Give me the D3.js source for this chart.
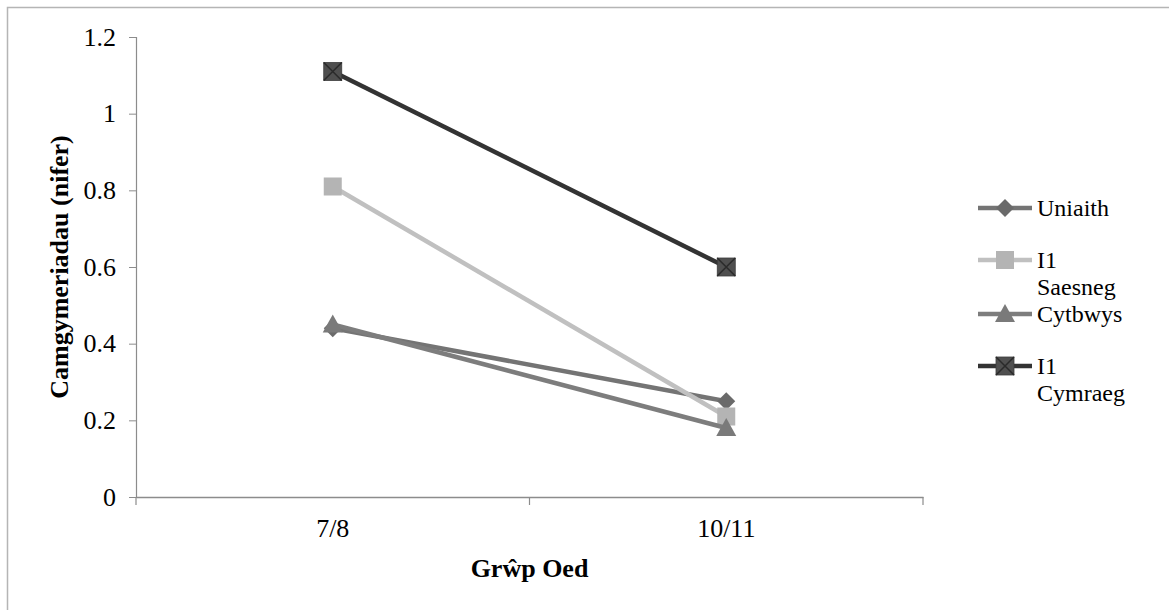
<!DOCTYPE html>
<html>
<head>
<meta charset="utf-8">
<script src="https://cdn.jsdelivr.net/npm/d3@7"></script>
<style>
  body { margin: 0; background: #fff; }
  svg { display: block; }
</style>
</head>
<body>
<svg id="chart" width="1169" height="610"></svg>
<script>
const groups = ["7/8", "10/11"];
const seriesNames = ["Uniaith", "I1 Saesneg", "Cytbwys", "I1 Cymraeg"];
const uniaith   = [0.44, 0.25];
const saesneg   = [0.81, 0.21];
const cytbwys   = [0.45, 0.18];
const cymraeg   = [1.11, 0.60];
const yTicks = [0, 0.2, 0.4, 0.6, 0.8, 1, 1.2];

const series = [
  { name: seriesNames[0], values: uniaith, line: "#747474", fill: "#6a6a6a", shape: "diamond" },
  { name: seriesNames[1], values: saesneg, line: "#c0c0c0", fill: "#b4b4b4", shape: "square" },
  { name: seriesNames[2], values: cytbwys, line: "#7d7d7d", fill: "#7a7a7a", shape: "triangle" },
  { name: seriesNames[3], values: cymraeg, line: "#333333", fill: "#4f4f4f", shape: "xsquare" }
];

const fontFamily = '"Liberation Serif", "Times New Roman", Times, serif';

const svg = d3.select("#chart").attr("font-family", fontFamily);
const plot = { left: 136, right: 923, top: 37, bottom: 497 };
const fontSize = 26;

// outer frame
svg.append("rect")
  .attr("x", 7.5).attr("y", 7.5)
  .attr("width", 1200).attr("height", 700)
  .attr("fill", "none").attr("stroke", "#b5b5b5").attr("stroke-width", 1.5);

const x = d3.scaleBand().domain(groups).range([plot.left, plot.right]);
const y = d3.scaleLinear().domain([0, 1.2]).range([plot.bottom, plot.top]);

const yAxis = svg.append("g")
  .attr("transform", `translate(${plot.left},0)`)
  .call(d3.axisLeft(y).tickValues(yTicks).tickSize(7).tickPadding(13)
    .tickFormat(d => String(+d.toFixed(1))));
yAxis.attr("font-family", fontFamily);
yAxis.select(".domain").attr("stroke", "#8c8c8c").attr("stroke-width", 1.2);
yAxis.selectAll(".tick line").attr("stroke", "#8c8c8c");
yAxis.selectAll("text").attr("font-size", fontSize).attr("fill", "#000");

const xAxis = svg.append("g")
  .attr("transform", `translate(0,${plot.bottom})`)
  .call(d3.axisBottom(x).tickSize(0).tickPadding(22).tickSizeOuter(0));
xAxis.attr("font-family", fontFamily);
xAxis.select(".domain").attr("stroke", "#8c8c8c").attr("stroke-width", 1.5);
xAxis.selectAll("text").attr("font-size", fontSize).attr("fill", "#000");
// category boundary ticks
const bounds = [plot.left, plot.left + x.bandwidth(), plot.right];
svg.selectAll("line.xtick")
  .data(bounds)
  .join("line")
  .attr("class", "xtick")
  .attr("x1", d => d).attr("x2", d => d)
  .attr("y1", plot.bottom).attr("y2", plot.bottom + 8)
  .attr("stroke", "#8c8c8c").attr("stroke-width", 1.2);

// axis titles
svg.append("text")
  .attr("x", (plot.left + plot.right) / 2).attr("y", 577)
  .attr("text-anchor", "middle")
  .attr("font-size", fontSize).attr("font-weight", "bold")
  .text("Grŵp Oed");

svg.append("text")
  .attr("transform", `translate(68,${(plot.top + plot.bottom) / 2}) rotate(-90)`)
  .attr("text-anchor", "middle")
  .attr("font-size", fontSize).attr("font-weight", "bold")
  .text("Camgymeriadau (nifer)");

function drawMarker(g, s, cx, cy) {
  if (s.shape === "diamond") {
    g.append("path")
      .attr("d", `M${cx},${cy - 9}L${cx + 9},${cy}L${cx},${cy + 9}L${cx - 9},${cy}Z`)
      .attr("fill", s.fill);
  } else if (s.shape === "square") {
    g.append("rect")
      .attr("x", cx - 9).attr("y", cy - 9).attr("width", 18).attr("height", 18)
      .attr("fill", s.fill);
  } else if (s.shape === "triangle") {
    g.append("path")
      .attr("d", `M${cx},${cy - 10}L${cx + 10},${cy + 8}L${cx - 10},${cy + 8}Z`)
      .attr("fill", s.fill);
  } else {
    g.append("rect")
      .attr("x", cx - 9).attr("y", cy - 9).attr("width", 18).attr("height", 18)
      .attr("fill", s.fill).attr("stroke", "#3c3c3c").attr("stroke-width", 0.8);
    g.append("path")
      .attr("d", `M${cx - 9},${cy - 9}L${cx + 9},${cy + 9}M${cx + 9},${cy - 9}L${cx - 9},${cy + 9}`)
      .attr("stroke", "#2a2a2a").attr("stroke-width", 1.5);
  }
}

const line = d3.line()
  .x((d, i) => x(groups[i]) + x.bandwidth() / 2)
  .y(d => y(d));

series.forEach(s => {
  const g = svg.append("g");
  g.append("path")
    .datum(s.values)
    .attr("d", line)
    .attr("fill", "none")
    .attr("stroke", s.line)
    .attr("stroke-width", 4.5);
  s.values.forEach((v, i) => drawMarker(g, s, x(groups[i]) + x.bandwidth() / 2, y(v)));
});

// legend
const legendY = [208, 260, 314, 366];
const legendFont = 24;
series.forEach((s, i) => {
  const g = svg.append("g");
  const ly = legendY[i];
  g.append("line")
    .attr("x1", 978).attr("x2", 1032).attr("y1", ly).attr("y2", ly)
    .attr("stroke", s.line).attr("stroke-width", 4.5);
  drawMarker(g, s, 1005, ly);
  const words = s.name.split(" ");
  const t = g.append("text")
    .attr("x", 1037).attr("y", ly + 8)
    .attr("font-size", legendFont);
  words.forEach((w, j) => {
    t.append("tspan").attr("x", 1037).attr("dy", j === 0 ? 0 : 27).text(w);
  });
});
</script>
</body>
</html>
